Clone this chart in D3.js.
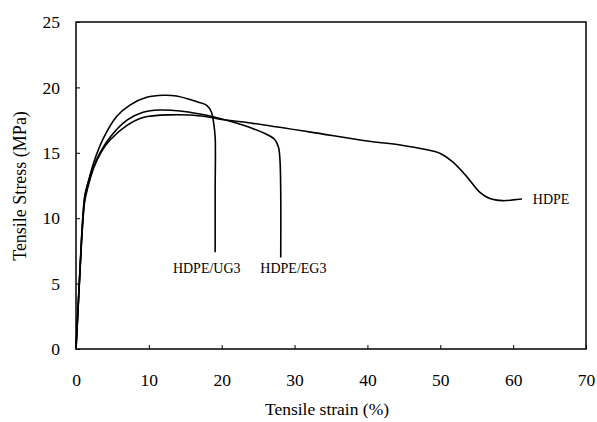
<!DOCTYPE html>
<html>
<head>
<meta charset="utf-8">
<script src="https://cdn.jsdelivr.net/npm/d3@7"></script>
<style>
  body { margin: 0; background: #fff; }
</style>
</head>
<body>
<svg id="chart"></svg>
<script>
// values (strain %, stress MPa)
const hdpeStrain = [0, 0.3, 0.6, 0.9, 1.2, 1.6, 2.4, 3.5, 4.7, 7.0, 9.2, 12.9, 17.5, 20, 23, 32, 40, 44.5, 48, 50, 51.7, 53.6, 55.4, 56.8, 58.6, 60, 61.2];
const hdpeStress = [0, 3.2, 6.5, 9.4, 11.3, 12.3, 13.8, 15.1, 16.0, 17.1, 17.7, 17.9, 17.8, 17.55, 17.35, 16.6, 15.9, 15.6, 15.25, 14.95, 14.3, 13.2, 12.0, 11.5, 11.34, 11.4, 11.47];

const eg3Strain = [0, 0.3, 0.6, 0.9, 1.2, 1.5, 2.8, 4.7, 7.0, 9.2, 11.5, 14.3, 17.0, 18.8, 23.0, 26.2, 27.3, 27.8, 28.0, 28.1, 28.1];
const eg3Stress = [0, 3.3, 6.6, 9.6, 11.5, 12.4, 14.45, 16.2, 17.5, 18.1, 18.27, 18.2, 17.97, 17.76, 17.1, 16.4, 16.0, 15.4, 14.4, 12.0, 7.0];

const ug3Strain = [0, 0.3, 0.6, 0.9, 1.2, 1.7, 2.4, 3.75, 5.6, 7.4, 9.7, 12.0, 13.8, 16.6, 17.9, 18.6, 18.9, 19.1, 19.1, 19.1];
const ug3Stress = [0, 3.4, 6.7, 9.8, 11.7, 12.8, 14.2, 16.1, 17.8, 18.65, 19.24, 19.4, 19.34, 18.9, 18.65, 18.1, 17.25, 16.2, 12.0, 7.4];

const xTicks = [0, 10, 20, 30, 40, 50, 60, 70];
const yTicks = [0, 5, 10, 15, 20, 25];

const curveNames = ["HDPE", "HDPE/EG3", "HDPE/UG3"];
// where each curve name starts (strain, stress)
const labelStrain = [62.7, 25.3, 13.3];
const labelStress = [11.45, 6.2, 6.2];

const FONT = "'Liberation Serif', 'Times New Roman', 'DejaVu Serif', serif";

const W = 597, H = 422;
const margin = {top: 22, right: 11, bottom: 73, left: 76};
const width = W - margin.left - margin.right;
const height = H - margin.top - margin.bottom;

const x = d3.scaleLinear().domain([0, 70]).range([0, width]);
const y = d3.scaleLinear().domain([0, 25]).range([height, 0]);

const svgRoot = d3.select("#chart").attr("width", W).attr("height", H);
const svg = svgRoot.append("g")
    .attr("transform", "translate(" + margin.left + "," + margin.top + ")");

// frame
svg.append("rect")
    .attr("width", width)
    .attr("height", height)
    .attr("fill", "none")
    .attr("stroke", "#000")
    .attr("stroke-width", 1.5);

const xAxis = svg.append("g")
    .attr("transform", "translate(0," + height + ")")
    .call(d3.axisBottom(x).tickValues(xTicks).tickSize(-4).tickPadding(25));
const yAxis = svg.append("g")
    .call(d3.axisLeft(y).tickValues(yTicks).tickSize(-4).tickPadding(16));

[xAxis, yAxis].forEach(a => {
    a.select(".domain").remove();
    a.selectAll("line").attr("stroke", "#000").attr("stroke-width", 1);
    a.selectAll("text")
        .style("font-family", FONT)
        .style("font-size", "17.5px")
        .attr("fill", "#000");
});

// axis titles
svg.append("text")
    .attr("x", width / 2 - 4)
    .attr("y", height + 66)
    .attr("text-anchor", "middle")
    .style("font-family", FONT)
    .style("font-size", "17.5px")
    .text("Tensile strain (%)");

svg.append("text")
    .attr("transform", "rotate(-90)")
    .attr("x", -(186 - margin.top))
    .attr("y", -margin.left + 26)
    .attr("text-anchor", "middle")
    .style("font-family", FONT)
    .style("font-size", "18px")
    .text("Tensile Stress (MPa)");

// curves
const series = [
    hdpeStrain.map((v, i) => [v, hdpeStress[i]]),
    eg3Strain.map((v, i) => [v, eg3Stress[i]]),
    ug3Strain.map((v, i) => [v, ug3Stress[i]])
];

const line = d3.line()
    .x(d => x(d[0]))
    .y(d => y(d[1]))
    .curve(d3.curveCatmullRom.alpha(0.5));

svg.append("g")
    .selectAll("path")
    .data(series)
    .join("path")
    .attr("fill", "none")
    .attr("stroke", "#000")
    .attr("stroke-width", 1.6)
    .attr("stroke-linejoin", "round")
    .attr("d", line);

// curve labels
svg.append("g")
    .selectAll("text")
    .data(curveNames)
    .join("text")
    .attr("x", (d, i) => x(labelStrain[i]))
    .attr("y", (d, i) => y(labelStress[i]))
    .attr("dy", "0.35em")
    .style("font-family", FONT)
    .style("font-size", "14px")
    .text(d => d);
</script>
</body>
</html>
